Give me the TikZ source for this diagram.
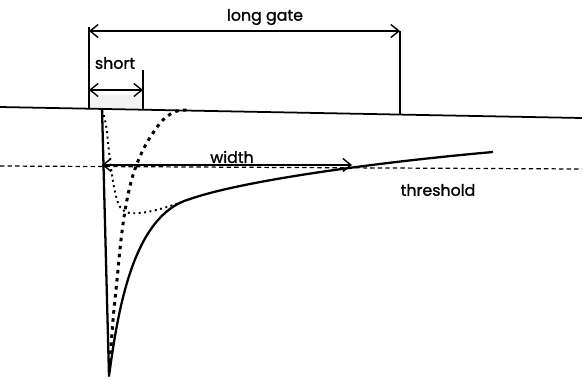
\documentclass[tikz,border=0pt]{standalone}
\usepackage{fontspec}
\newfontfamily\lblfont{Poppins}[FakeBold=1.2]
\usepackage{tikz}
\usetikzlibrary{arrows.meta}

\begin{document}
\begin{tikzpicture}[x=0.02cm,y=-0.02cm,
  lbl/.style={font=\lblfont\small,inner sep=1pt},
  dim/.style={{Straight Barb[length=1.6mm,width=2.6mm]}-{Straight Barb[length=1.6mm,width=2.6mm]},line width=0.8pt},
  ln/.style={line width=1pt},
  pulse/.style={line width=1.3pt}]
\useasboundingbox (0,0) rectangle (582,380);
% gate
\fill[gray!10] (89,95) rectangle (143,108);
\draw[ln] (0,107) -- (582,118);
\coordinate (lg1) at (89,31);
\coordinate (lg2) at (400,31);
\coordinate (sh1) at (89,90);
\coordinate (sh2) at (143,90);
\draw[ln] (89,27) -- (89,108.7);
\draw[ln] (400,31) -- (400,114.5);
\draw[ln] (143,70) -- (143,109.5);
\draw[dim] (lg1) -- (lg2);
\draw[dim] (sh1) -- (sh2);
\node[lbl] (long) at (265,17) {long gate};
\node[lbl] (short) at (115,63) {short};
% threshold
\draw[dash pattern=on 2.5pt off 1.8pt,line width=0.7pt] (0,166) -- (582,169);
\coordinate (w1) at (102,165);
\coordinate (w2) at (352,165);
\draw[dim] (w1) -- (w2);
\node[lbl] (width) at (232,157) {width};
\node[lbl] (thr) at (438,190) {threshold};
% pulses
\draw[pulse,line join=round] (102,108) -- (109,376)
  .. controls (118,310) and (133,215) .. (190,199)
  .. controls (245,180) and (380,162) .. (493,152);
\draw[line width=1.7pt,dash pattern=on 2pt off 2.6pt] plot[smooth,tension=0.6] coordinates {(110,362) (113,320) (117,280) (121,240) (126,205) (133,175) (143,150) (155,130) (165,118) (177,111) (190,110)};
\draw[line width=1.1pt,dotted] plot[smooth,tension=0.6] coordinates {(102,110) (106,125) (110,160) (114,187) (119,205) (126,212) (140,213) (160,209) (182,202)};
\end{tikzpicture}
\end{document}
